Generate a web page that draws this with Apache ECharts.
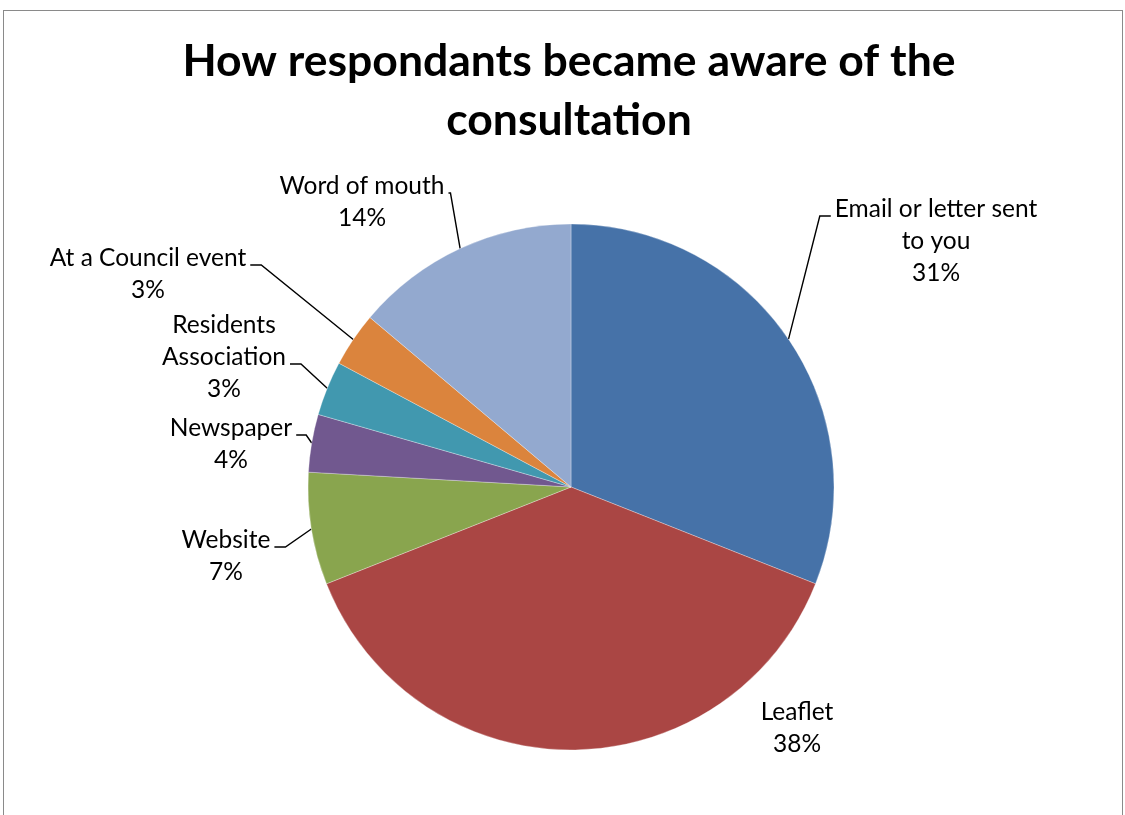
<!DOCTYPE html>
<html>
<head>
<meta charset="utf-8">
<script src="https://cdn.jsdelivr.net/npm/echarts@6/dist/echarts.min.js"></script>
<style>
  html, body { margin: 0; padding: 0; background: #fff; }
  #frame { position: absolute; left: 3px; top: 10px; width: 1120px; height: 830px; border: 1.5px solid #8a8a8a; box-sizing: border-box; }
  #chart { position: absolute; left: 0; top: 0; width: 1125px; height: 815px; }
</style>
</head>
<body>
<div id="frame"></div>
<div id="chart"></div>
<script>
// ---- data ----
const categories = ['Email or letter sent\nto you', 'Leaflet', 'Website', 'Newspaper', 'Residents\nAssociation', 'At a Council event', 'Word of mouth'];
const shares = [31.0, 38.0, 6.9, 3.55, 3.35, 3.35, 13.85];
const sliceColors = ['#4672A8', '#AA4644', '#89A54E', '#71588F', '#4198AF', '#DB843D', '#93A9CF'];
const titleText = 'How respondants became aware of the\nconsultation';

// ---- label layout (centre of each label block, side of leader line, line index it attaches to) ----
const labelCentres = [[936, 241], [797, 728], [226, 556], [231, 444], [224, 357], [148, 274], [362, 202]];
const leaderSide = ['left', null, 'right', 'right', 'right', 'right', 'right'];
const leaderLine = [0, 0, 0, 0, 1, 0, 0];
const elbowLen = [11, 0, 11, 10, 11, 11, 2];
const LINE_H = 32;

const chart = echarts.init(document.getElementById('chart'), null, { renderer: 'canvas' });
const labelFont = 'Lato';

chart.setOption({
  animation: false,
  color: sliceColors,
  title: {
    text: titleText,
    left: 564,
    textAlign: 'center',
    top: 27,
    textStyle: { fontFamily: labelFont, fontWeight: 'bold', fontSize: 44.5, lineHeight: 59, color: '#000' }
  },
  series: [{
    type: 'pie',
    center: [571, 487],
    radius: 263,
    startAngle: 90,
    clockwise: true,
    percentPrecision: 0,
    avoidLabelOverlap: false,
    data: categories.map((c, i) => ({ name: c, value: shares[i], labelLine: { show: leaderSide[i] !== null } })),
    itemStyle: { borderColor: 'rgba(255,255,255,0.6)', borderWidth: 0.5 },
    label: {
      show: true,
      position: 'outside',
      formatter: '{b}\n{d}%',
      fontFamily: labelFont,
      fontSize: 24.5,
      lineHeight: LINE_H,
      color: '#000',
      align: 'center'
    },
    labelLine: { show: true, length: 20, length2: 10, smooth: false, lineStyle: { color: '#000', width: 1.4 } },
    labelLayout: function (params) {
      const i = params.dataIndex;
      const c = labelCentres[i];
      const w = params.labelRect.width;
      const h = params.labelRect.height;
      const out = { x: c[0], y: c[1], align: 'center', verticalAlign: 'middle' };
      if (leaderSide[i] && params.labelLinePoints) {
        const edge = params.labelLinePoints[0];
        const top = c[1] - h / 2;
        const ay = top + LINE_H * leaderLine[i] + LINE_H * 0.72;
        let ex, bx;
        if (leaderSide[i] === 'left') { ex = c[0] - w / 2 - 4; bx = ex - elbowLen[i]; }
        else { ex = c[0] + w / 2 + 4; bx = ex + elbowLen[i]; }
        out.labelLinePoints = [[edge[0], edge[1]], [bx, ay], [ex, ay]];
      }
      return out;
    }
  }]
});
</script>
</body>
</html>
